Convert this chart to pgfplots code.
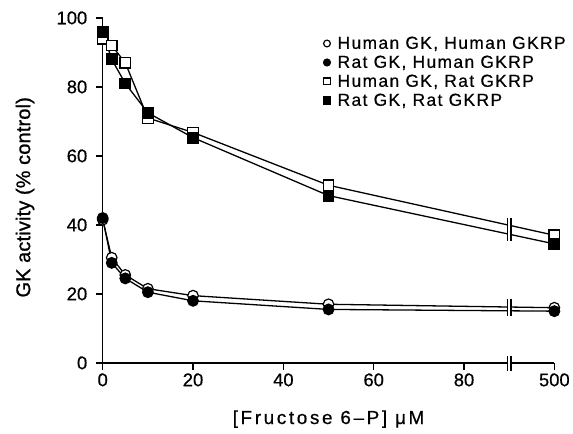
\documentclass[border=0pt]{standalone}
\usepackage{fontspec}
\setmainfont{Liberation Sans}
\usepackage{pgfplots}
\usepackage{pgfplotstable}
\pgfplotsset{compat=1.18}

% x = 100 stands for 500 uM (broken axis after 90)
\pgfplotstableread{
x   y
0   41.5
2   30.5
5   25.5
10  21.5
20  19.5
50  17.0
100 16.0
}\hhdata
\pgfplotstableread{
x   y
0   42.0
2   29.0
5   24.5
10  20.5
20  18.0
50  15.5
100 15.0
}\rhdata
\pgfplotstableread{
x   y
0   94.0
2   92.0
5   87.0
10  71.0
20  66.8
50  51.5
100 37.0
}\hrdata
\pgfplotstableread{
x   y
0   96.0
2   88.0
5   81.0
10  72.5
20  65.3
50  48.5
100 34.5
}\rrdata

\newcommand\tfont{\fontsize{18.5}{20}\selectfont\addfontfeature{FakeBold=0.6}}
\newcommand\xlfont{\fontsize{19}{22}\selectfont\addfontfeature{LetterSpace=14,FakeBold=0.6}}
\newcommand\ylfont{\fontsize{20}{23}\selectfont\addfontfeature{LetterSpace=1,FakeBold=1}}
\newcommand\gfont{\fontsize{17.5}{19}\selectfont\addfontfeature{LetterSpace=8,FakeBold=0.5}}

\begin{document}
\begin{tikzpicture}
\begin{axis}[
scale only axis,
width=453bp,
height=346bp,
xmin=0, xmax=100,
ymin=0, ymax=100,
clip=false,
axis x line*=bottom,
axis y line*=left,
axis line style={line width=1.2bp, -},
tick style={line width=1.2bp, black},
tick align=outside,
major tick length=7bp,
xtick={0,20,40,60,80,100},
xticklabels={0,20,40,60,80,500},
ytick={0,20,40,60,80,100},
/pgf/number format/assume math mode=true,
ticklabel style={font=\tfont},
yticklabel style={xshift=-5bp},
xlabel={[Fructose 6–P] μM},
ylabel={GK activity (\% control)},
xlabel style={font=\xlfont, at={(rel axis cs:0.5,-0.163)}, anchor=center},
ylabel style={font=\ylfont, at={(rel axis cs:-0.172,0.48)}, anchor=center},
every axis plot/.append style={line width=1.3bp, black},
legend style={draw=none, fill=none, inner sep=0pt, at={(rel axis cs:0.487,0.952)}, anchor=north west,
  font=\gfont, row sep=1.4bp},
legend cell align=left,
legend image code/.code={\path (-3.5bp,0) (8bp,0); \draw[only marks, mark size=3.4bp] plot coordinates {(0bp,0bp)};},
]
\addplot[mark=*, mark size=5.3bp, mark options={fill=white, line width=1.2bp}] table {\hhdata};
\addlegendentry{Human GK, Human GKRP}
\addplot[mark=*, mark size=5.3bp, mark options={fill=black}] table {\rhdata};
\addlegendentry{Rat GK, Human GKRP}
\addplot[mark=square*, mark size=5.3bp, mark options={fill=white, line width=1.2bp}] table {\hrdata};
\addlegendentry{Human GK, Rat GKRP}
\addplot[mark=square*, mark size=5.3bp, mark options={fill=black}] table {\rrdata};
\addlegendentry{Rat GK, Rat GKRP}

% axis break marks at 90
\fill[white] (axis cs:89.6,34.6) rectangle (axis cs:90.4,42.4);
\draw[line width=1.2bp] (axis cs:89.6,35.3)--(axis cs:89.6,41.9) (axis cs:90.4,35.3)--(axis cs:90.4,41.9);
\fill[white] (axis cs:89.6,13.2) rectangle (axis cs:90.4,19.0);
\draw[line width=1.2bp] (axis cs:89.6,13.7)--(axis cs:89.6,18.5) (axis cs:90.4,13.7)--(axis cs:90.4,18.5);
\fill[white] (axis cs:89.6,-1.0) rectangle (axis cs:90.4,1.0);
\draw[line width=1.2bp] (axis cs:89.6,-2.3)--(axis cs:89.6,2.0) (axis cs:90.4,-2.3)--(axis cs:90.4,2.0);

% page frame matching the reference margins
\path (rel axis cs:-0.2274,-0.2052) rectangle (rel axis cs:1.0375,1.052);
\end{axis}
\end{tikzpicture}
\end{document}
